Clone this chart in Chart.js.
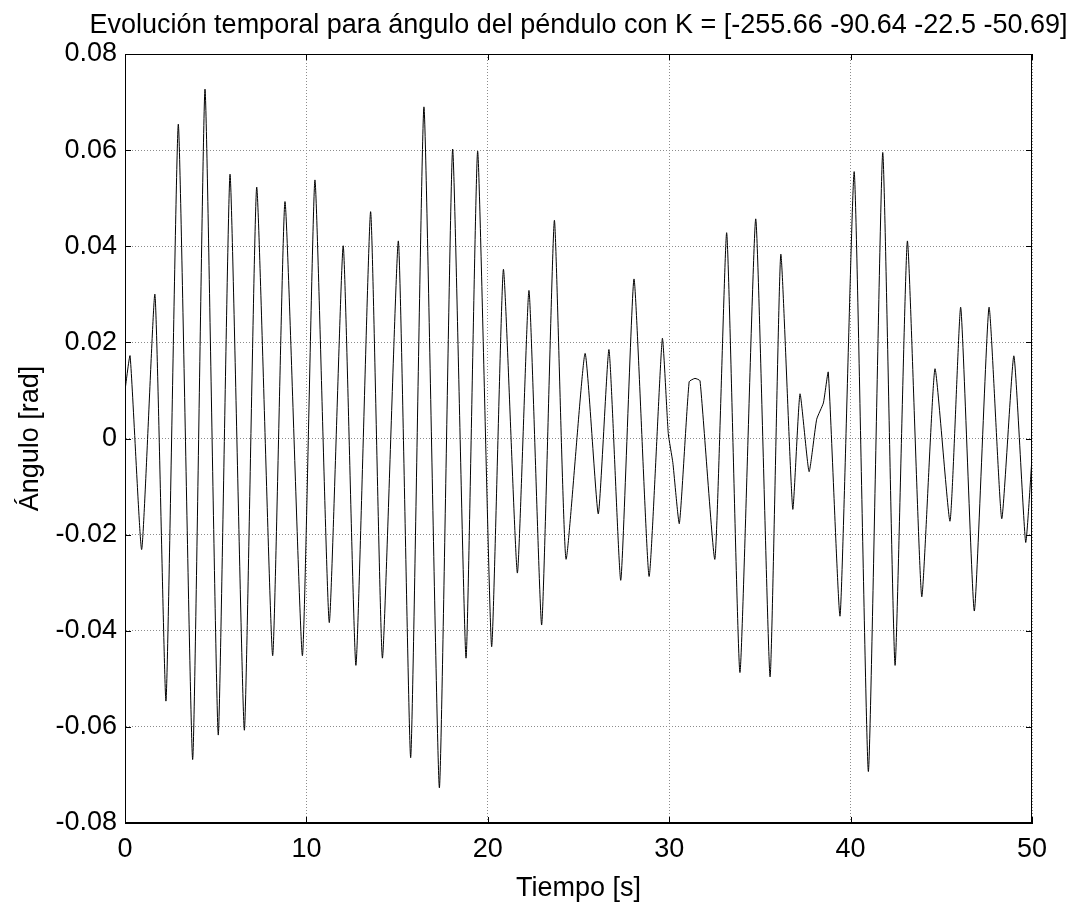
<!DOCTYPE html>
<html>
<head>
<meta charset="utf-8">
<script src="https://cdn.jsdelivr.net/npm/chart.js@4/dist/chart.umd.min.js"></script>
<style>
  html, body { margin: 0; padding: 0; background: #fff; }
  #wrap { width: 1075px; height: 909px; }
</style>
</head>
<body>
<div id="wrap"><canvas id="chart" width="1075" height="909"></canvas></div>
<script>
// extrema of the pendulum angle
var tiempo = [0, 0.28, 0.92, 1.65, 2.26, 2.94, 3.73, 4.41, 5.14, 5.79, 6.58, 7.26, 8.14, 8.82, 9.78,
    10.47, 11.26, 12.03, 12.73, 13.54, 14.19, 15.07, 15.75, 16.48, 17.33, 18.06, 18.8, 19.44,
    20.21, 20.86, 21.63, 22.27, 22.97, 23.67, 24.31, 25.36, 26.09, 26.68, 27.33, 28.06, 28.89,
    29.62, 29.95, 30.2, 30.56, 31.1, 31.42, 31.7, 32.52, 33.17, 33.9, 34.77, 35.56, 36.15, 36.81,
    37.21, 37.71, 38.13, 38.5, 38.77, 39.42, 40.2, 40.98, 41.77, 42.45, 43.13, 43.92, 44.65,
    45.48, 46.07, 46.82, 47.63, 48.33, 49.0, 49.65, 50];
var angulo = [0.010, 0.0172, -0.0231, 0.0300, -0.0546, 0.0654, -0.0668, 0.0727, -0.0617, 0.0550, -0.0607, 0.0523, -0.0452, 0.0493, -0.0452,
    0.0538, -0.0383, 0.0401, -0.0472, 0.0472, -0.0457, 0.0411, -0.0664, 0.0690, -0.0727, 0.0602, -0.0457, 0.0598,
    -0.0433, 0.0352, -0.0280, 0.0308, -0.0388, 0.0454, -0.0251, 0.0177, -0.0157, 0.0185, -0.0295, 0.0332, -0.0287,
    0.0208, 0.001, -0.005, -0.0177, 0.0118, 0.0125, 0.0120, -0.0251, 0.0428, -0.0487, 0.0457, -0.0496, 0.0383, -0.0147,
    0.0093, -0.0069, 0.0040, 0.0074, 0.0138, -0.0369, 0.0555, -0.0693, 0.0595, -0.0472, 0.0411, -0.0329, 0.0145,
    -0.0172, 0.0273, -0.0359, 0.0273, -0.0167, 0.0172, -0.0216, -0.004];

var xTicksStep = 10;
var yTicksStep = 0.02;
var titulo = 'Evolución temporal para ángulo del péndulo con K = [-255.66 -90.64 -22.5 -50.69]';
var fuente = '"Liberation Sans", Arial, Helvetica, sans-serif';

// MATLAB style box with inward ticks, plus the title centred over the axes
var matlabBox = {
    id: 'matlabBox',
    afterDraw: function (chart) {
        var ctx = chart.ctx;
        var a = chart.chartArea;
        var x = chart.scales.x, y = chart.scales.y;
        var tl = 6;
        ctx.save();
        ctx.strokeStyle = '#000';
        ctx.lineWidth = 1;
        ctx.strokeRect(a.left + 0.5, a.top + 0.5, a.right - a.left - 1, a.bottom - a.top - 1);
        ctx.beginPath();
        x.ticks.forEach(function (t) {
            var px = Math.round(x.getPixelForValue(t.value)) + 0.5;
            ctx.moveTo(px, a.bottom); ctx.lineTo(px, a.bottom - tl);
            ctx.moveTo(px, a.top); ctx.lineTo(px, a.top + tl);
        });
        y.ticks.forEach(function (t) {
            var py = Math.round(y.getPixelForValue(t.value)) + 0.5;
            ctx.moveTo(a.left, py); ctx.lineTo(a.left + tl, py);
            ctx.moveTo(a.right, py); ctx.lineTo(a.right - tl, py);
        });
        ctx.stroke();
        ctx.fillStyle = '#000';
        ctx.font = '27px ' + fuente;
        ctx.textAlign = 'center';
        ctx.textBaseline = 'alphabetic';
        ctx.fillText(titulo, (a.left + a.right) / 2, 33);
        ctx.restore();
    }
};

var puntos = tiempo.map(function (t, i) { return { x: t, y: angulo[i] }; });

new Chart(document.getElementById('chart').getContext('2d'), {
    type: 'line',
    data: {
        datasets: [{
            data: puntos,
            borderColor: '#000',
            borderWidth: 1,
            pointRadius: 0,
            fill: false,
            tension: 0.15
        }]
    },
    options: {
        responsive: false,
        animation: false,
        layout: { padding: { top: 54, right: 43, bottom: 0, left: 0 } },
        plugins: {
            legend: { display: false },
            tooltip: { enabled: false }
        },
        scales: {
            x: {
                type: 'linear',
                min: 0,
                max: 50,
                ticks: {
                    stepSize: xTicksStep,
                    color: '#000',
                    padding: 10,
                    font: { family: fuente, size: 27 },
                    maxRotation: 0
                },
                grid: { color: '#8c8c8c', drawTicks: false },
                border: { color: '#000', dash: [1, 2] },
                title: {
                    display: true,
                    text: 'Tiempo [s]',
                    color: '#000',
                    font: { family: fuente, size: 27 },
                    padding: { top: 0, bottom: 4 }
                },
                afterFit: function (scale) { scale.height = 86; }
            },
            y: {
                min: -0.08,
                max: 0.08,
                ticks: {
                    stepSize: yTicksStep,
                    color: '#000',
                    padding: 8,
                    font: { family: fuente, size: 27 },
                    callback: function (v) { return Math.abs(v) < 1e-9 ? '0' : v.toFixed(2); }
                },
                grid: { color: '#8c8c8c', drawTicks: false },
                border: { color: '#000', dash: [1, 2] },
                title: {
                    display: true,
                    text: 'Ángulo [rad]',
                    color: '#000',
                    font: { family: fuente, size: 27 },
                    padding: { top: 14, bottom: 0 }
                },
                afterFit: function (scale) { scale.width = 125; }
            }
        }
    },
    plugins: [matlabBox]
});
</script>
</body>
</html>
